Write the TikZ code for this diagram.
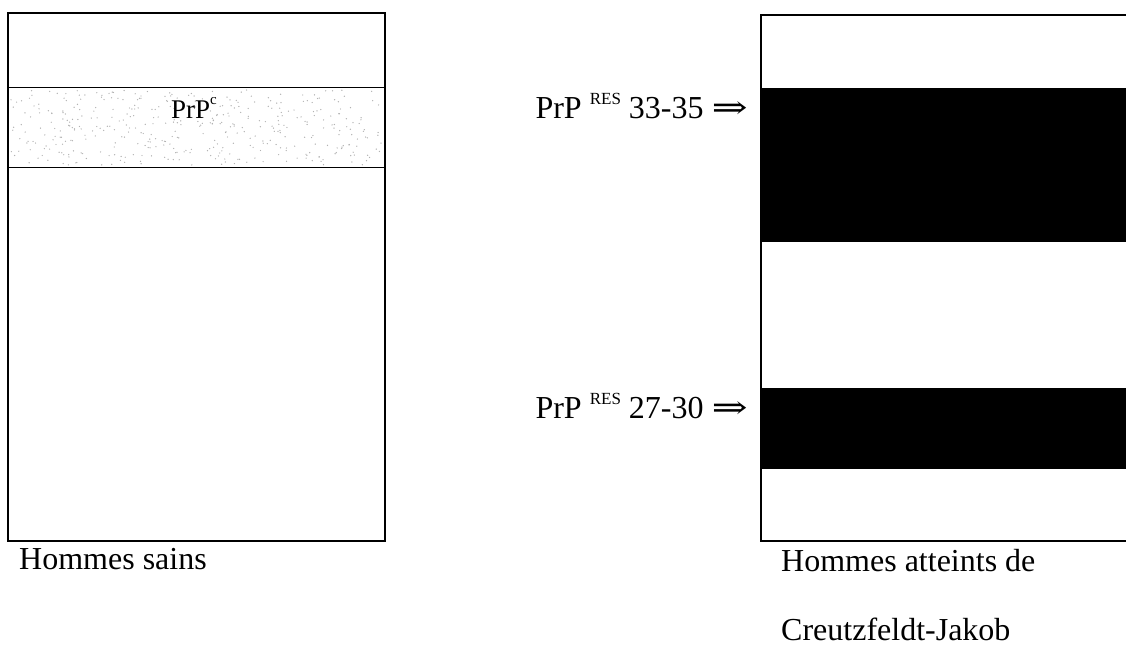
\documentclass[tikz,border=0pt]{standalone}
\usepackage{fontspec}
\setmainfont{Liberation Serif}
\newfontfamily\arrowfont{DejaVu Serif}
\newcommand{\resarrow}{\scalebox{1.35}[1]{\arrowfont ⇒}}
\newcommand{\ressup}{\raisebox{0.42em}{\fontsize{17}{18}\selectfont RES}}
\begin{document}
\begin{tikzpicture}[x=1pt,y=-1pt,
  frame/.style={draw=black,line width=1.3pt},
  band/.style={fill=black},
  lbl/.style={inner sep=0pt,font=\fontsize{32}{38}\selectfont}]
\useasboundingbox (0,0) rectangle (1126,648);
% stipple of the PrP^c band
\pgfmathsetseed{7}
\foreach \i in {1,...,420}{
  \fill[gray!60] ({11+rnd*371},{90+rnd*75}) circle (0.7);
}
% left box
\draw[frame] (8,13) rectangle (385,541);
\draw[line width=1pt] (8,87) -- (385,87);
\draw[line width=1pt] (8,167) -- (385,167);
\node[lbl,anchor=base,font=\fontsize{27}{32}\selectfont] (prpc) at (194,118) {PrP\raisebox{0.5em}{\fontsize{15}{16}\selectfont c}};
% right box
\fill[band] (761,88) rectangle (1130,242);
\fill[band] (761,388) rectangle (1130,469);
\draw[frame] (761,15) rectangle (1132,541);
% labels on the right
\node[lbl,anchor=base east] (res1) at (748,118) {PrP \ressup{} 33-35 \resarrow};
\node[lbl,anchor=base east] (res2) at (748,418) {PrP \ressup{} 27-30 \resarrow};
% captions
\node[lbl,anchor=base west] (sains) at (19,569) {Hommes sains};
\node[lbl,anchor=base west] (att1) at (781,571) {Hommes atteints de};
\node[lbl,anchor=base west] (att2) at (781,640) {Creutzfeldt-Jakob};
\end{tikzpicture}
\end{document}
